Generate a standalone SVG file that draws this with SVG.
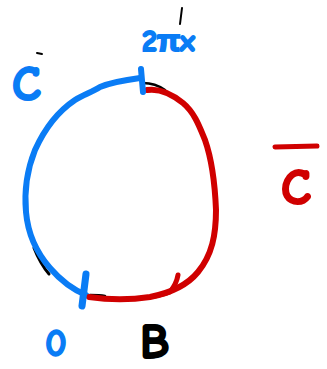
<svg xmlns="http://www.w3.org/2000/svg" width="327" height="369" viewBox="0 0 327 369">
<style>
.ink{fill:none;stroke-linecap:round;stroke-linejoin:round}
.blue{stroke:#0a7cf5}
.red{stroke:#d00000}
.blk{stroke:#000}
.lbl{font-family:"Comic Neue","Liberation Sans",sans-serif;font-weight:bold}
</style>
<rect width="327" height="369" fill="#fff"/>
<g id="connectors">
<path id="base-left" class="ink blk" stroke-width="3" d="M34,248 C38,258 42,266 49,274"/>
<path id="base-top" class="ink blk" stroke-width="2.5" d="M143,83 C150,83 158,85 165,90"/>
<path id="base-bottom" class="ink blk" stroke-width="2.5" d="M90,295 C95,295 100,295 105,296"/>
<path id="arc-C" class="ink blue" stroke-width="6" d="M140,78 C125,80 112,82 100,87 C92,92 83,95 75,100 C60,110 45,128 35,150 C27,170 24,190 26,212 C28,235 36,252 50,268 C62,282 74,290 86,295"/>
<path id="arc-Cbar" class="ink red" stroke-width="6" d="M147,90 C160,88 172,94 183,103 C195,113 200,128 205,140 C212,160 215,185 216,210 C216,235 212,255 198,272 C185,288 165,294 150,297 C130,300 110,300 89,297"/>
<path id="arrow" class="ink red" stroke-width="5" d="M178,275 C177,281 174,287 170,292 C165,294 160,295 155,296"/>
<path id="tick-top" class="ink blue" stroke-width="6" d="M141,69 L143,92"/>
<path id="tick-bottom" class="ink blue" stroke-width="7" d="M86,274 L82,306"/>
<path id="stray1" class="ink blk" stroke-width="2" d="M37,53 L42,54"/>
<path id="stray2" class="ink blk" stroke-width="2" d="M182,8 L180,24"/>
<path id="bar" class="ink red" stroke-width="5" d="M275,147 L317,146"/>
</g>
<g id="label-C"><text class="lbl" x="12" y="100" font-size="48" fill="#0a7cf5" stroke="#0a7cf5" stroke-width="2">C</text></g>
<g id="label-2pi"><text class="lbl" x="142" y="51" font-size="30" fill="#0a7cf5" stroke="#0a7cf5" stroke-width="2">2πx</text></g>
<g id="label-Cbar"><text class="lbl" x="281" y="204" font-size="50" fill="#d00000" stroke="#d00000" stroke-width="2">C</text></g>
<g id="label-0"><text class="lbl" x="45" y="356" font-size="38" fill="#0a7cf5" stroke="#0a7cf5" stroke-width="1.5">0</text></g>
<g id="label-B"><text class="lbl" x="140" y="358" font-size="48" fill="#000" stroke="#000" stroke-width="2">B</text></g>
</svg>
